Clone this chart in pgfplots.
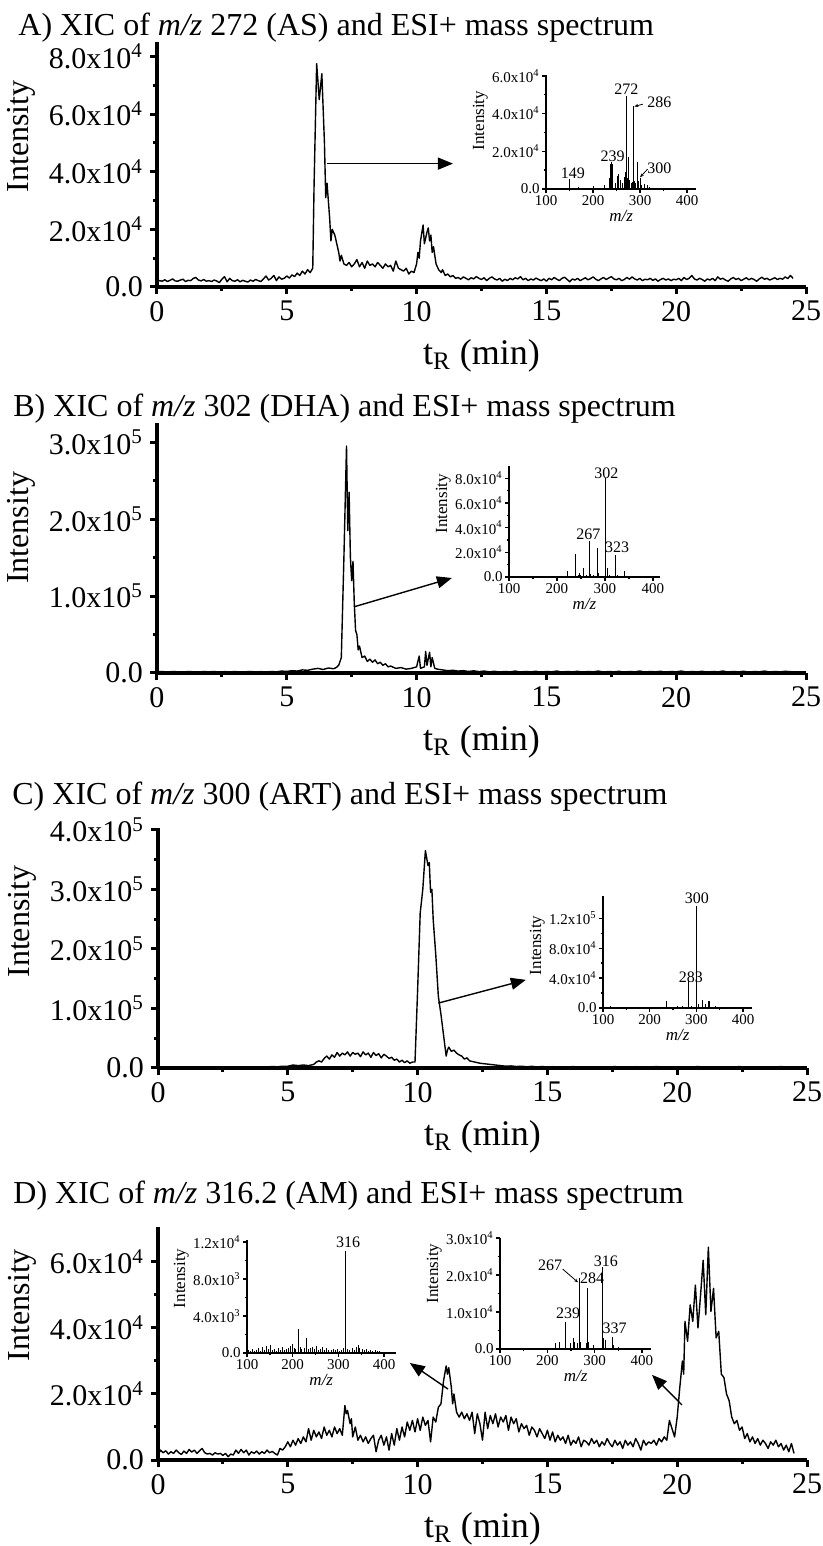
\documentclass[border=0pt]{standalone}
\usepackage{fontspec}
\setmainfont{Liberation Serif}
\usepackage{pgfplots}
\pgfplotsset{compat=1.18}
\usetikzlibrary{arrows.meta}
\newcommand{\sci}[2]{#1x10\textsuperscript{#2}}
\newcommand{\fmain}{\fontsize{16}{16}\selectfont}
\newcommand{\ftick}{\fontsize{15}{15}\selectfont}
\newcommand{\fins}{\fontsize{7.5}{7.5}\selectfont}
\tikzset{lab/.style={font=\fontsize{8}{8}\selectfont, inner sep=0pt}}
\pgfplotsset{
  mainax/.style={
    scale only axis, width=324.5pt,
    axis lines=left, axis line style={-, line width=2pt},
    xmin=0, xmax=25, ymin=0,
    xtick={0,5,10,15,20,25}, xticklabels={0,5,10,15,20,25},
    minor x tick num=1, minor y tick num=1,
    tick align=outside,
    major tick length=3.5pt, minor tick length=2pt,
    tick style={line width=1.5pt, black},
    tick label style={font=\ftick},
    xlabel={t\textsubscript{R} (min)},
    ylabel={Intensity},
    xlabel style={font=\fontsize{18}{18}\selectfont, yshift=-2pt},
    ylabel style={font=\fmain},
    clip=false,
  },
  trace/.style={black, line width=0.7pt, line join=round, mark=none},
  insetax/.style={
    scale only axis, axis lines=left, axis line style={-, line width=1pt},
    xmin=100, ymin=0,
    xtick={100,200,300,400}, xticklabels={100,200,300,400},
    minor x tick num=1, minor y tick num=1, tick align=outside,
    major tick length=2pt, minor tick length=1.2pt,
    tick style={line width=0.7pt, black},
    tick label style={font=\fins, inner sep=1pt},
    xlabel={\textit{m/z}}, ylabel={Intensity},
    label style={font=\fontsize{8.5}{8.5}\selectfont, inner sep=1pt},
    clip=false,
  },
  bars/.style={ycomb, black, line width=0.5pt, mark=none},
}
\begin{document}
\begin{tikzpicture}
\useasboundingbox (0,0) rectangle (411.5pt,773pt);
% ---------------- Titles
\node[anchor=base west, font=\fmain, inner sep=0pt] at (9pt,755pt) {A) XIC of \textit{m/z} 272 (AS) and ESI+ mass spectrum};
\node[anchor=base west, font=\fmain, inner sep=0pt] at (6.5pt,564.5pt) {B) XIC of \textit{m/z} 302 (DHA) and ESI+ mass spectrum};
\node[anchor=base west, font=\fmain, inner sep=0pt] at (6pt,370.5pt) {C) XIC of \textit{m/z} 300 (ART) and ESI+ mass spectrum};
\node[anchor=base west, font=\fmain, inner sep=0pt] at (6.5pt,171pt) {D) XIC of \textit{m/z} 316.2 (AM) and ESI+ mass spectrum};

% ================= Panel A
\begin{axis}[mainax, at={(78.5pt,629.5pt)}, anchor=south west, height=122.5pt,
  ymax=8.5, ytick={0,2,4,6,8},
  yticklabels={0.0,\sci{2.0}{4},\sci{4.0}{4},\sci{6.0}{4},\sci{8.0}{4}},
  ylabel style={at={(ticklabel cs:0.615)}}]
\addplot[trace] coordinates {
(0,.18)(0.1,.22)(0.2,.2)(0.3,.25)(0.4,.19)(0.5,.23)(0.6,.28)(0.7,.21)(0.8,.2)(0.9,.24)
(1,.27)(1.1,.19)(1.2,.23)(1.3,.22)(1.4,.3)(1.5,.33)(1.6,.24)(1.7,.21)(1.8,.26)(1.9,.2)
(2,.22)(2.1,.19)(2.2,.24)(2.3,.21)(2.4,.15)(2.5,.27)(2.6,.36)(2.7,.18)(2.8,.3)(2.9,.22)
(3,.2)(3.1,.25)(3.2,.18)(3.3,.23)(3.4,.2)(3.5,.17)(3.6,.24)(3.7,.2)(3.8,.26)(3.9,.22)
(4,.19)(4.1,.28)(4.2,.38)(4.3,.24)(4.4,.3)(4.5,.4)(4.6,.22)(4.7,.35)(4.8,.27)(4.9,.3)
(5,.38)(5.1,.31)(5.2,.42)(5.3,.36)(5.4,.48)(5.5,.4)(5.6,.55)(5.7,.45)(5.8,.6)(5.9,.5)
(6,.65)(6.05,3.5)(6.15,7.75)(6.25,6.5)(6.35,7.4)(6.45,5.0)(6.5,3.1)(6.55,3.6)(6.65,2.4)(6.7,1.6)
(6.75,2.0)(6.85,1.8)(6.95,1.4)(7,1.2)(7.05,0.9)(7.1,1.1)(7.2,0.8)(7.3,0.75)(7.4,0.85)(7.5,0.7)
(7.6,0.8)(7.7,0.95)(7.8,0.7)(7.9,0.85)(8,0.65)(8.1,0.9)(8.2,0.75)(8.3,0.8)(8.4,0.7)(8.5,0.85)
(8.6,0.75)(8.7,0.65)(8.8,0.8)(8.9,0.7)(9,0.75)(9.1,0.55)(9.2,0.9)(9.3,0.65)(9.4,0.6)(9.5,0.55)
(9.6,0.65)(9.7,0.45)(9.8,0.55)(9.9,0.5)(10,0.8)(10.05,1.2)(10.1,1.0)(10.15,1.6)(10.25,2.15)(10.3,1.5)
(10.4,1.9)(10.45,2.05)(10.5,1.6)(10.55,1.8)(10.6,1.2)(10.65,1.4)(10.75,0.8)(10.85,0.6)(10.95,0.5)(11,0.6)
(11.1,0.4)(11.2,0.45)(11.3,0.35)(11.4,0.4)(11.5,0.3)(11.6,.33)(11.7,.27)(11.8,.35)(11.9,.3)
(12,.25)(12.1,.32)(12.2,.28)(12.3,.36)(12.4,.3)(12.5,.26)(12.6,.32)(12.7,.22)(12.8,.3)(12.9,.35)
(13,.28)(13.1,.24)(13.2,.3)(13.3,.2)(13.4,.27)(13.5,.22)(13.6,.3)(13.7,.25)(13.8,.32)(13.9,.28)
(14,.36)(14.1,.25)(14.2,.3)(14.3,.22)(14.4,.28)(14.5,.24)(14.6,.31)(14.7,.26)(14.8,.22)(14.9,.28)
(15,.2)(15.1,.3)(15.2,.25)(15.3,.33)(15.4,.27)(15.5,.22)(15.6,.3)(15.7,.34)(15.8,.26)(15.9,.18)
(16,.28)(16.1,.24)(16.2,.3)(16.3,.22)(16.4,.27)(16.5,.32)(16.6,.25)(16.7,.29)(16.8,.35)(16.9,.27)
(17,.22)(17.1,.28)(17.2,.33)(17.3,.26)(17.4,.31)(17.5,.36)(17.6,.28)(17.7,.25)(17.8,.3)(17.9,.22)
(18,.26)(18.1,.33)(18.2,.27)(18.3,.35)(18.4,.28)(18.5,.24)(18.6,.3)(18.7,.22)(18.8,.27)(18.9,.25)
(19,.3)(19.1,.23)(19.2,.28)(19.3,.2)(19.4,.26)(19.5,.3)(19.6,.24)(19.7,.28)(19.8,.22)(19.9,.27)
(20,.25)(20.1,.3)(20.2,.22)(20.3,.33)(20.4,.26)(20.5,.3)(20.6,.4)(20.7,.28)(20.8,.24)(20.9,.3)
(21,.26)(21.1,.2)(21.2,.28)(21.3,.24)(21.4,.3)(21.5,.22)(21.6,.35)(21.7,.27)(21.8,.3)(21.9,.24)
(22,.2)(22.1,.28)(22.2,.33)(22.3,.26)(22.4,.3)(22.5,.22)(22.6,.27)(22.7,.32)(22.8,.25)(22.9,.3)
(23,.26)(23.1,.2)(23.2,.28)(23.3,.34)(23.4,.27)(23.5,.3)(23.6,.24)(23.7,.28)(23.8,.32)(23.9,.26)
(24,.3)(24.1,.27)(24.2,.35)(24.3,.29)(24.4,.4)(24.5,.3)
};
\draw[line width=0.7pt, -{Triangle[length=7.5pt,width=6pt]}] (axis cs:6.55,4.28) -- (axis cs:11.4,4.28);
\end{axis}

\begin{axis}[insetax, at={(273pt,678.5pt)}, anchor=south west, width=75.2pt, height=57pt,
  xmax=420, ymax=6.05, ytick={0,2,4,6},
  yticklabels={0.0,\sci{2.0}{4},\sci{4.0}{4},\sci{6.0}{4}},
  ylabel style={at={(ticklabel cs:0.6)}}]
\addplot[bars] coordinates {
(149,0.53)(170,0.1)(200,0.15)(225,0.2)(235,0.6)(237,1.35)(239,1.42)(241,1.3)(248,0.3)(253,0.7)
(255,0.82)(258,0.5)(262,0.3)(268,0.65)(270,0.9)(272,4.94)(274,0.6)(276,1.72)(278,0.45)(281,0.3)
(284,0.35)(286,4.4)(288,0.4)(291,0.3)(294,1.42)(296,0.4)(300,0.58)(304,0.2)(310,0.25)(315,0.2)(320,0.1)
};
\node[lab] at (axis cs:157,0.85) {149};
\node[lab] at (axis cs:241.6,1.75) {239};
\node[lab] at (axis cs:271,5.3) {272};
\node[lab] at (axis cs:341,4.62) {286};
\node[lab] at (axis cs:341,1.1) {300};
\draw[line width=0.4pt, -{Stealth[length=2pt,width=1.6pt]}] (axis cs:306,4.5) -- (axis cs:288,4.38);
\draw[line width=0.4pt, -{Stealth[length=2pt,width=1.6pt]}] (axis cs:316,1.05) -- (axis cs:300,0.62);
\end{axis}

% ================= Panel B
\begin{axis}[mainax, at={(78.5pt,436.5pt)}, anchor=south west, height=125pt,
  ymax=3.25, ytick={0,1,2,3},
  yticklabels={0.0,\sci{1.0}{5},\sci{2.0}{5},\sci{3.0}{5}},
  ylabel style={at={(ticklabel cs:0.58)}}]
\addplot[trace] coordinates {
(0,.015)(0.2,.02)(0.4,.01)(0.6,.02)(0.8,.015)(1,.01)(1.2,.02)(1.4,.015)(1.6,.01)(1.8,.02)
(2,.015)(2.2,.02)(2.4,.01)(2.6,.018)(2.8,.012)(3,.02)(3.2,.01)(3.4,.015)(3.6,.02)(3.8,.012)
(4,.018)(4.2,.01)(4.4,.02)(4.6,.015)(4.8,.025)(5,.02)(5.2,.03)(5.4,.025)(5.6,.04)(5.8,.035)
(6,.05)(6.2,.06)(6.4,.045)(6.6,.065)(6.8,.055)(6.9,.07)(7,.1)(7.1,.2)(7.2,1.5)(7.3,2.95)
(7.35,1.85)(7.4,2.35)(7.45,1.5)(7.5,1.2)(7.55,1.45)(7.6,0.9)(7.65,0.55)(7.7,0.5)(7.75,0.3)(7.8,0.35)
(7.9,0.2)(8,0.22)(8.1,0.15)(8.2,0.18)(8.3,0.14)(8.4,0.17)(8.5,0.12)(8.6,0.14)(8.7,0.1)(8.8,0.12)
(8.9,0.08)(9,0.09)(9.2,0.06)(9.4,0.07)(9.6,0.05)(9.8,0.06)(10,0.08)(10.1,0.22)(10.15,0.06)(10.3,0.08)
(10.35,0.28)(10.4,0.1)(10.5,0.27)(10.55,0.08)(10.6,0.2)(10.7,0.06)(10.8,0.05)(11,.04)(11.2,.03)(11.4,.035)
(11.6,.025)(11.8,.03)(12,.02)(12.2,.028)(12.4,.018)(12.6,.025)(12.8,.015)(13,.022)(13.2,.012)(13.4,.02)
(13.6,.015)(13.8,.025)(14,.012)(14.2,.02)(14.4,.015)(14.6,.022)(14.8,.01)(15,.02)(15.2,.015)(15.4,.025)
(15.6,.012)(15.8,.02)(16,.015)(16.2,.022)(16.4,.01)(16.6,.02)(16.8,.015)(17,.025)(17.2,.012)(17.4,.02)
(17.6,.015)(17.8,.022)(18,.01)(18.2,.02)(18.4,.015)(18.6,.025)(18.8,.012)(19,.02)(19.2,.015)(19.4,.022)
(19.6,.01)(19.8,.02)(20,.015)(20.2,.025)(20.4,.012)(20.6,.02)(20.8,.015)(21,.022)(21.2,.01)(21.4,.02)
(21.6,.015)(21.8,.025)(22,.012)(22.2,.02)(22.4,.015)(22.6,.022)(22.8,.01)(23,.02)(23.2,.015)(23.4,.025)
(23.6,.012)(23.8,.02)(24,.015)(24.2,.022)(24.5,.015)
};
\draw[line width=0.7pt, -{Triangle[length=7.5pt,width=6pt]}] (axis cs:7.59,0.86) -- (axis cs:11.36,1.235);
\end{axis}

\begin{axis}[insetax, at={(254.5pt,484.5pt)}, anchor=south west, width=75.5pt, height=55.5pt,
  xmax=415, ymax=9, ytick={0,2,4,6,8},
  yticklabels={0.0,\sci{2.0}{4},\sci{4.0}{4},\sci{6.0}{4},\sci{8.0}{4}},
  ylabel style={at={(ticklabel cs:0.66)}}]
\addplot[bars] coordinates {
(221,0.45)(239,1.85)(244,0.2)(248,0.3)(250,0.2)(255,0.75)(262,0.2)(267,2.95)(270,0.25)(277,0.2)
(284,2.35)(286,0.3)(302,8.0)(305,0.75)(310,0.2)(323,1.8)(326,0.2)(341,0.45)(350,0.1)
};
\node[lab] at (axis cs:303,8.45) {302};
\node[lab] at (axis cs:265.6,3.45) {267};
\node[lab] at (axis cs:325.7,2.4) {323};
\end{axis}

% ================= Panel C
\begin{axis}[mainax, at={(79pt,239pt)}, anchor=south west, height=120pt,
  ymax=4.03, ytick={0,1,2,3,4},
  yticklabels={0.0,\sci{1.0}{5},\sci{2.0}{5},\sci{3.0}{5},\sci{4.0}{5}},
  ylabel style={at={(ticklabel cs:0.61)}}]
\addplot[trace] coordinates {
(0,.015)(0.2,.02)(0.4,.01)(0.6,.02)(0.8,.015)(1,.01)(1.2,.02)(1.4,.015)(1.6,.01)(1.8,.02)
(2,.015)(2.2,.02)(2.4,.01)(2.6,.018)(2.8,.012)(3,.02)(3.2,.01)(3.4,.015)(3.6,.02)(3.8,.012)
(4,.018)(4.2,.015)(4.4,.025)(4.6,.02)(4.8,.03)(5,.03)(5.2,.05)(5.4,.04)(5.6,.05)(5.8,.04)
(6,.06)(6.1,.1)(6.2,.12)(6.3,.1)(6.4,.16)(6.5,.2)(6.6,.15)(6.7,.22)(6.8,.18)(6.9,.26)
(7,.2)(7.1,.25)(7.2,.22)(7.3,.27)(7.4,.2)(7.5,.26)(7.6,.23)(7.7,.25)(7.8,.19)(7.9,.27)
(8,.22)(8.1,.25)(8.2,.18)(8.3,.26)(8.4,.21)(8.5,.24)(8.6,.17)(8.7,.23)(8.8,.2)(8.9,.16)
(9,.18)(9.1,.13)(9.2,.15)(9.3,.1)(9.4,.13)(9.5,.09)(9.6,.12)(9.7,.08)(9.8,.1)(9.9,.1)
(10,1.3)(10.1,2.6)(10.2,3.0)(10.3,3.65)(10.4,3.4)(10.45,3.45)(10.5,2.95)(10.55,3.0)(10.6,2.5)(10.7,1.9)
(10.8,1.2)(10.9,0.9)(11,0.55)(11.1,0.2)(11.15,0.3)(11.2,0.35)(11.3,0.28)(11.4,0.3)(11.5,0.25)(11.6,0.22)
(11.7,0.2)(11.8,0.15)(11.9,0.17)(12,0.12)(12.2,0.1)(12.4,0.08)(12.6,0.07)(12.8,0.06)(13,0.05)(13.2,.04)
(13.4,.03)(13.6,.035)(13.8,.025)(14,.03)(14.2,.02)(14.4,.028)(14.6,.018)(14.8,.025)(15,.015)(15.2,.022)
(15.4,.012)(15.6,.02)(15.8,.015)(16,.025)(16.2,.012)(16.4,.02)(16.6,.015)(16.8,.022)(17,.01)(17.2,.02)
(17.4,.015)(17.6,.025)(17.8,.012)(18,.02)(18.2,.015)(18.4,.022)(18.6,.01)(18.8,.02)(19,.015)(19.2,.025)
(19.4,.012)(19.6,.02)(19.8,.015)(20,.022)(20.2,.01)(20.4,.02)(20.6,.015)(20.8,.025)(21,.012)(21.2,.02)
(21.4,.015)(21.6,.022)(21.8,.01)(22,.02)(22.2,.015)(22.4,.025)(22.6,.012)(22.8,.02)(23,.015)(23.2,.022)
(23.4,.01)(23.6,.02)(23.8,.015)(24,.025)(24.2,.012)(24.5,.02)
};
\draw[line width=0.7pt, -{Triangle[length=7.5pt,width=6pt]}] (axis cs:10.8,1.09) -- (axis cs:14.17,1.48);
\end{axis}

\begin{axis}[insetax, at={(301.5pt,269pt)}, anchor=south west, width=74.7pt, height=56pt,
  xmax=420, ymax=15, ytick={0,4,8,12},
  yticklabels={0.0,\sci{4.0}{4},\sci{8.0}{4},\sci{1.2}{5}},
  ylabel style={at={(ticklabel cs:0.56)}}]
\addplot[bars] coordinates {
(116,0.3)(150,0.1)(200,0.15)(235,1.0)(260,0.2)(270,0.3)(283,3.7)(290,0.3)(300,13.6)(305,0.5)
(314,1.1)(320,0.6)(325,1.0)(329,1.0)(340,0.2)
};
\node[lab] at (axis cs:301,14.7) {300};
\node[lab] at (axis cs:288,4.1) {283};
\end{axis}

% ================= Panel D
\begin{axis}[mainax, at={(79pt,43pt)}, anchor=south west, height=116.5pt,
  ymax=7.06, ytick={0,2,4,6},
  yticklabels={0.0,\sci{2.0}{4},\sci{4.0}{4},\sci{6.0}{4}},
  ylabel style={at={(ticklabel cs:0.665)}}]
\addplot[trace] coordinates {
(0,.15)(0.1,.3)(0.2,.22)(0.3,.28)(0.4,.18)(0.5,.25)(0.6,.2)(0.7,.3)(0.8,.22)(0.9,.17)
(1,.27)(1.1,.2)(1.2,.32)(1.3,.24)(1.4,.3)(1.5,.2)(1.6,.28)(1.7,.35)(1.8,.22)(1.9,.18)
(2,.2)(2.1,.15)(2.2,.22)(2.3,.18)(2.4,.2)(2.5,.14)(2.6,.2)(2.7,.1)(2.8,.18)(2.9,.15)
(3,.3)(3.1,.2)(3.2,.32)(3.3,.22)(3.4,.3)(3.5,.15)(3.6,.25)(3.7,.2)(3.8,.27)(3.9,.18)
(4,.25)(4.1,.2)(4.2,.3)(4.3,.22)(4.4,.26)(4.5,.2)(4.6,.15)(4.7,.35)(4.8,.3)(4.9,.4)
(5,.55)(5.1,.4)(5.2,.6)(5.3,.45)(5.4,.65)(5.5,.5)(5.6,.7)(5.7,.55)(5.8,.95)(5.9,.6)
(6,.9)(6.1,.7)(6.2,.85)(6.3,.65)(6.4,1.0)(6.5,.75)(6.6,.9)(6.7,.7)(6.8,1.0)(6.9,.8)
(7,.95)(7.1,.75)(7.2,1.65)(7.25,1.4)(7.3,1.5)(7.4,1.1)(7.45,1.25)(7.5,.7)(7.6,1.0)(7.7,.6)
(7.8,.75)(7.9,.55)(8,.7)(8.1,.5)(8.2,.65)(8.3,.75)(8.4,.25)(8.5,.6)(8.6,.75)(8.7,.45)
(8.8,.7)(8.9,.3)(9,.8)(9.1,.45)(9.2,.95)(9.3,.6)(9.4,1.0)(9.5,.7)(9.6,1.15)(9.7,.9)
(9.8,1.2)(9.9,.85)(10,1.25)(10.1,.9)(10.2,1.3)(10.3,1.05)(10.4,1.2)(10.5,.55)(10.6,1.3)(10.7,1.15)
(10.8,1.6)(10.9,1.7)(11,2.4)(11.1,2.85)(11.15,2.6)(11.2,2.8)(11.3,2.2)(11.35,1.7)(11.4,2.0)(11.5,1.45)
(11.6,1.3)(11.7,1.45)(11.8,1.25)(11.9,1.4)(12,1.2)(12.1,1.45)(12.2,.8)(12.3,1.4)(12.4,1.1)(12.5,.6)
(12.6,1.45)(12.7,.95)(12.8,1.35)(12.9,1.1)(13,1.4)(13.1,1.0)(13.2,1.3)(13.3,1.15)(13.4,1.35)(13.5,.9)
(13.6,1.3)(13.7,1.1)(13.8,1.25)(13.9,.85)(14,1.1)(14.1,.95)(14.2,1.05)(14.3,.75)(14.4,1.0)(14.5,.9)
(14.6,.7)(14.7,.95)(14.8,.8)(14.9,.65)(15,.9)(15.1,.6)(15.2,.85)(15.3,.55)(15.4,.75)(15.5,.6)
(15.6,.7)(15.7,.5)(15.8,.75)(15.9,.45)(16,.6)(16.1,.5)(16.2,.7)(16.3,.4)(16.4,.6)(16.5,.55)
(16.6,.45)(16.7,.65)(16.8,.5)(16.9,.6)(17,.4)(17.1,.55)(17.2,.45)(17.3,.65)(17.4,.5)(17.5,.4)
(17.6,.6)(17.7,.45)(17.8,.55)(17.9,.35)(18,.6)(18.1,.45)(18.2,.55)(18.3,.4)(18.4,.65)(18.5,.5)
(18.6,.3)(18.7,.6)(18.8,.45)(18.9,.55)(19,.5)(19.1,.6)(19.2,.45)(19.3,.65)(19.4,.55)(19.5,.7)
(19.6,.6)(19.7,1.2)(19.8,.95)(19.9,.7)(20,1.3)(20.1,2.2)(20.2,3.0)(20.25,2.6)(20.3,4.2)(20.4,3.6)
(20.5,4.7)(20.6,4.2)(20.7,5.3)(20.8,4.0)(20.9,5.0)(21,6.05)(21.1,4.4)(21.2,6.45)(21.3,4.5)(21.4,5.2)
(21.5,3.7)(21.6,3.9)(21.7,2.6)(21.8,2.5)(21.9,2.0)(22,1.8)(22.1,1.3)(22.2,1.1)(22.3,1.2)(22.4,.9)
(22.5,1.0)(22.6,.65)(22.7,.8)(22.8,.55)(22.9,.7)(23,.5)(23.1,.65)(23.2,.45)(23.3,.6)(23.4,.5)
(23.5,.35)(23.6,.55)(23.7,.45)(23.8,.6)(23.9,.4)(24,.5)(24.1,.3)(24.2,.45)(24.3,.25)(24.4,.5)(24.5,.2)
};
\draw[line width=0.7pt, -{Triangle[length=7.5pt,width=6pt]}] (axis cs:11.17,2.15) -- (axis cs:9.7,2.94);
\draw[line width=0.7pt, -{Triangle[length=7.5pt,width=6pt]}] (axis cs:20.18,1.67) -- (axis cs:19.03,2.58);
\end{axis}

\begin{axis}[insetax, at={(123.5pt,96.5pt)}, anchor=south west, width=74.3pt, height=56.5pt,
  xmax=425, ymax=12.2, ytick={0,4,8,12},
  yticklabels={0.0,\sci{4.0}{3},\sci{8.0}{3},\sci{1.2}{4}},
  ylabel style={at={(ticklabel cs:0.66)}}]
\addplot[bars] coordinates {
(103,0.3)(108,0.2)(112,0.45)(117,0.25)(121,0.35)(126,0.5)(130,0.2)(134,0.6)(139,0.3)(143,0.75)
(147,0.4)(151,0.9)(156,0.3)(160,0.45)(165,0.25)(169,0.5)(173,0.35)(178,0.6)(182,0.3)(187,0.4)
(191,0.55)(195,0.75)(199,0.95)(203,0.5)(207,0.4)(212,2.6)(216,0.6)(220,0.45)(225,0.5)(230,1.65)
(234,0.4)(238,0.55)(243,0.7)(248,0.4)(252,0.8)(256,0.35)(261,0.45)(265,0.6)(270,0.3)(274,0.5)
(279,0.35)(284,0.3)(289,0.4)(293,0.3)(298,0.45)(302,0.25)(307,0.35)(311,0.5)(316,11.0)(320,0.4)
(325,0.3)(330,0.5)(334,0.35)(339,0.6)(343,0.85)(347,0.55)(352,0.4)(356,0.3)(361,0.45)(365,0.25)
(370,0.35)(375,0.2)(380,0.3)(385,0.2)(390,0.25)(396,0.15)
};
\node[lab] at (axis cs:321,11.9) {316};
\end{axis}

\begin{axis}[insetax, at={(250pt,98.5pt)}, anchor=south west, width=75.7pt, height=55.5pt,
  xmax=420, ymax=3.0, ytick={0,1,2,3},
  yticklabels={0.0,\sci{1.0}{4},\sci{2.0}{4},\sci{3.0}{4}},
  ylabel style={at={(ticklabel cs:0.68)}}]
\addplot[bars] coordinates {
(218,0.15)(225,0.19)(239,0.74)(248,0.15)(255,0.3)(258,0.2)(264,0.15)(267,1.92)(270,0.2)(282,0.15)
(284,1.64)(288,0.2)(298,0.1)(316,2.22)(318,0.3)(322,0.25)(337,0.32)(340,0.1)(350,0.05)
};
\node[lab] at (axis cs:205.7,2.27) {267};
\node[lab] at (axis cs:294.5,1.92) {284};
\node[lab] at (axis cs:324,2.38) {316};
\node[lab] at (axis cs:243.8,0.97) {239};
\node[lab] at (axis cs:342,0.55) {337};
\draw[line width=0.4pt, -{Stealth[length=2pt,width=1.6pt]}] (axis cs:232.5,2.16) -- (axis cs:265,1.8);
\end{axis}
\end{tikzpicture}
\end{document}
